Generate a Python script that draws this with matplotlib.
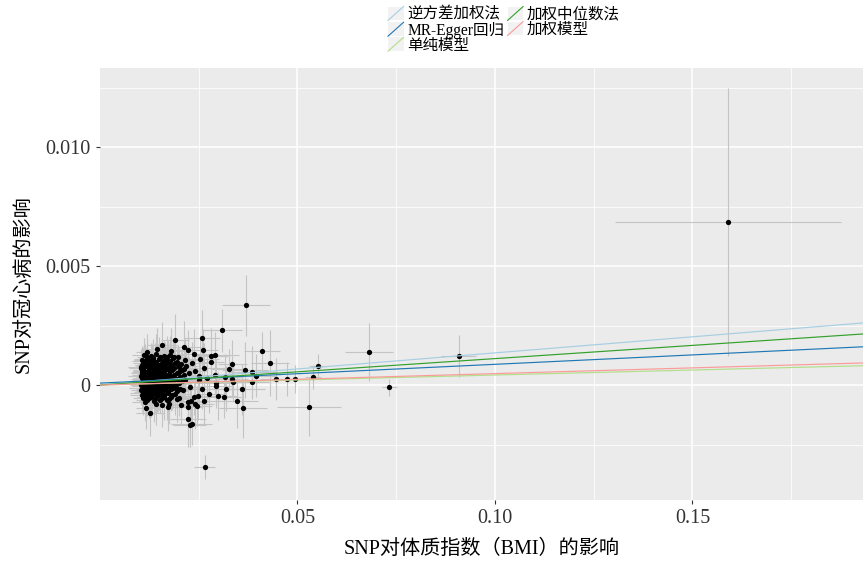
import matplotlib
matplotlib.use("Agg")
import matplotlib.pyplot as plt
from matplotlib.lines import Line2D
from matplotlib.patches import Rectangle
from matplotlib.legend_handler import HandlerBase

plt.rcParams['font.family'] = ['Liberation Serif', 'Noto Sans CJK SC']

# --- dense cluster of SNPs (row by row) ---
core_x = [0.0112, 0.0128, 0.0141, 0.0163, 0.0178, 0.0197,
          0.0106, 0.0119, 0.0134, 0.0150, 0.0168, 0.0186, 0.0214,
          0.0110, 0.0124, 0.0139, 0.0155, 0.0172, 0.0191, 0.0205, 0.0232,
          0.0104, 0.0117, 0.0131, 0.0146, 0.0160, 0.0177, 0.0199, 0.0218,
          0.0108, 0.0122, 0.0136, 0.0151, 0.0165, 0.0183, 0.0208, 0.0241,
          0.0113, 0.0127, 0.0142, 0.0157, 0.0174, 0.0194, 0.0226,
          0.0105, 0.0118, 0.0133, 0.0148, 0.0162, 0.0180, 0.0203, 0.0251,
          0.0110, 0.0124, 0.0139, 0.0154, 0.0170, 0.0188, 0.0215,
          0.0106, 0.0119, 0.0135, 0.0150, 0.0166, 0.0184, 0.0199,
          0.0111, 0.0126, 0.0141, 0.0158, 0.0175, 0.0193, 0.0228,
          0.0104, 0.0118, 0.0132, 0.0147, 0.0163, 0.0181, 0.0209,
          0.0109, 0.0123, 0.0138, 0.0153, 0.0171, 0.0190,
          0.0114, 0.0129, 0.0145, 0.0161, 0.0179, 0.0201,
          0.0120, 0.0136, 0.0152, 0.0169]
core_y = [0.00127, 0.00121, 0.00129, 0.00123, 0.00126, 0.00119,
          0.00106, 0.00111, 0.00104, 0.00109, 0.00105, 0.00112, 0.00107,
          0.00094, 0.00089, 0.00093, 0.00090, 0.00095, 0.00091, 0.00088, 0.00093,
          0.00076, 0.00080, 0.00077, 0.00081, 0.00075, 0.00079, 0.00076, 0.00080,
          0.00065, 0.00061, 0.00064, 0.00060, 0.00066, 0.00062, 0.00065, 0.00061,
          0.00047, 0.00051, 0.00048, 0.00050, 0.00046, 0.00052, 0.00049,
          0.00036, 0.00033, 0.00037, 0.00034, 0.00036, 0.00032, 0.00035, 0.00037,
          0.00019, 0.00023, 0.00020, 0.00022, 0.00018, 0.00023, 0.00020,
          0.00008, 0.00005, 0.00009, 0.00006, 0.00008, 0.00004, 0.00007,
          -0.00005, -0.00009, -0.00006, -0.00008, -0.00005, -0.00009, -0.00007,
          -0.00020, -0.00023, -0.00019, -0.00022, -0.00021, -0.00018, -0.00023,
          -0.00034, -0.00037, -0.00033, -0.00036, -0.00034, -0.00038,
          -0.00049, -0.00052, -0.00048, -0.00051, -0.00050, -0.00053,
          -0.00063, -0.00066, -0.00062, -0.00065]
core_sx = [.0030, .0022, .0038, .0025, .0041, .0028,
           .0020, .0034, .0026, .0043, .0024, .0031, .0037,
           .0027, .0019, .0035, .0023, .0040, .0029, .0021, .0045,
           .0033, .0025, .0018, .0039, .0027, .0036, .0022, .0030,
           .0024, .0038, .0029, .0021, .0034, .0026, .0042, .0031,
           .0019, .0032, .0040, .0026, .0023, .0036, .0028,
           .0035, .0027, .0021, .0044, .0030, .0024, .0038, .0033,
           .0028, .0020, .0037, .0025, .0041, .0029, .0034,
           .0022, .0039, .0027, .0033, .0019, .0036, .0025,
           .0031, .0024, .0042, .0028, .0035, .0021, .0038,
           .0026, .0036, .0020, .0040, .0029, .0033, .0024,
           .0034, .0023, .0039, .0027, .0031, .0037,
           .0021, .0035, .0028, .0043, .0025, .0032,
           .0029, .0038, .0024, .0034]
core_sy = [.00070, .00055, .00085, .00062, .00078, .00050,
           .00058, .00080, .00066, .00092, .00054, .00073, .00088,
           .00064, .00048, .00082, .00059, .00095, .00070, .00052, .00086,
           .00077, .00061, .00045, .00090, .00067, .00083, .00056, .00072,
           .00055, .00087, .00069, .00050, .00079, .00063, .00098, .00074,
           .00046, .00075, .00093, .00060, .00053, .00084, .00068,
           .00081, .00065, .00051, .00097, .00071, .00057, .00089, .00076,
           .00067, .00049, .00086, .00058, .00094, .00070, .00080,
           .00052, .00091, .00063, .00077, .00047, .00085, .00060,
           .00073, .00057, .00096, .00066, .00082, .00050, .00088,
           .00062, .00084, .00048, .00092, .00069, .00078, .00056,
           .00079, .00054, .00090, .00064, .00073, .00087,
           .00050, .00081, .00067, .00095, .00059, .00076,
           .00068, .00088, .00057, .00080]

# --- second layer of the cluster (between the rows above) ---
mid_x = [0.0120, 0.0134, 0.0152, 0.0170, 0.0187,
         0.0113, 0.0127, 0.0143, 0.0159, 0.0177, 0.0196,
         0.0107, 0.0117, 0.0131, 0.0147, 0.0164, 0.0181, 0.0198,
         0.0110, 0.0124, 0.0139, 0.0153, 0.0169, 0.0188, 0.0212,
         0.0106, 0.0119, 0.0133, 0.0146, 0.0161, 0.0178, 0.0200,
         0.0110, 0.0124, 0.0138, 0.0153, 0.0168, 0.0187, 0.0213,
         0.0107, 0.0115, 0.0129, 0.0143, 0.0158, 0.0176, 0.0195,
         0.0112, 0.0127, 0.0145, 0.0160, 0.0179, 0.0207,
         0.0104, 0.0116, 0.0130, 0.0145, 0.0161, 0.0177, 0.0190,
         0.0108, 0.0121, 0.0134, 0.0150, 0.0168, 0.0186, 0.0203,
         0.0113, 0.0127, 0.0141, 0.0156, 0.0172, 0.0195,
         0.0106, 0.0117, 0.0131, 0.0147, 0.0163, 0.0182,
         0.0124, 0.0140, 0.0157, 0.0174]
mid_y = [0.00118, 0.00115, 0.00119, 0.00116, 0.00117,
         0.00099, 0.00101, 0.00098, 0.00102, 0.00100, 0.00097,
         0.00086, 0.00084, 0.00087, 0.00083, 0.00086, 0.00085, 0.00084,
         0.00071, 0.00069, 0.00072, 0.00070, 0.00068, 0.00071, 0.00069,
         0.00057, 0.00055, 0.00056, 0.00058, 0.00054, 0.00057, 0.00055,
         0.00043, 0.00041, 0.00044, 0.00042, 0.00040, 0.00043, 0.00041,
         0.00029, 0.00027, 0.00028, 0.00030, 0.00026, 0.00029, 0.00027,
         0.00015, 0.00013, 0.00016, 0.00014, 0.00012, 0.00015,
         0.00001, -0.00001, 0.00002, 0.00000, -0.00002, 0.00001, -0.00001,
         -0.00013, -0.00015, -0.00012, -0.00016, -0.00014, -0.00013, -0.00015,
         -0.00027, -0.00029, -0.00026, -0.00030, -0.00028, -0.00027,
         -0.00041, -0.00043, -0.00040, -0.00044, -0.00042, -0.00041,
         -0.00056, -0.00058, -0.00055, -0.00059]
mid_sx = [.0026, .0035, .0022, .0040, .0031,
          .0033, .0021, .0038, .0027, .0044, .0025,
          .0019, .0029, .0036, .0024, .0041, .0030, .0034,
          .0037, .0023, .0031, .0042, .0026, .0035, .0028,
          .0022, .0039, .0027, .0033, .0020, .0036, .0043,
          .0030, .0025, .0041, .0028, .0034, .0022, .0038,
          .0024, .0036, .0029, .0021, .0040, .0032, .0027,
          .0039, .0026, .0033, .0044, .0023, .0035,
          .0028, .0020, .0037, .0025, .0031, .0042, .0026,
          .0034, .0029, .0022, .0039, .0027, .0036, .0030,
          .0023, .0041, .0032, .0026, .0037, .0029,
          .0031, .0024, .0038, .0021, .0035, .0028,
          .0036, .0027, .0033, .0040]
mid_sy = [.00062, .00080, .00054, .00091, .00070,
          .00075, .00051, .00088, .00066, .00095, .00058,
          .00049, .00072, .00085, .00060, .00093, .00067, .00078,
          .00083, .00056, .00074, .00097, .00063, .00081, .00069,
          .00053, .00090, .00065, .00077, .00048, .00086, .00099,
          .00071, .00059, .00094, .00068, .00080, .00052, .00087,
          .00057, .00084, .00070, .00050, .00092, .00076, .00064,
          .00089, .00061, .00078, .00098, .00055, .00082,
          .00066, .00047, .00086, .00059, .00073, .00096, .00062,
          .00079, .00068, .00052, .00090, .00064, .00083, .00071,
          .00054, .00093, .00075, .00061, .00087, .00069,
          .00072, .00057, .00088, .00050, .00081, .00066,
          .00084, .00063, .00077, .00092]

# --- points around the cluster edge ---
edge_x = [0.0158, 0.0190, 0.0258, 0.0223, 0.0144, 0.0118, 0.0239, 0.0262, 0.0282, 0.0292,
          0.0253, 0.0282, 0.0264, 0.0326, 0.0335, 0.0368, 0.0292, 0.0316, 0.0335, 0.0386,
          0.0395, 0.0384, 0.0337, 0.0294, 0.0294, 0.0319, 0.0360, 0.0276, 0.0299, 0.0314,
          0.0348, 0.0362, 0.0264, 0.0237, 0.0249, 0.0222, 0.0231, 0.0240, 0.0245, 0.0223,
          0.0227, 0.0232, 0.0222, 0.0174, 0.0173, 0.0158, 0.0117, 0.0126, 0.0108, 0.0113,
          0.0104, 0.0107, 0.0143, 0.0196, 0.0206, 0.0250, 0.0270, 0.0258, 0.0213, 0.0181]
edge_y = [0.00168, 0.00188, 0.00197, 0.00147, 0.00150, 0.00140, 0.00130, 0.00146, 0.00123, 0.00126,
          0.00108, 0.00098, 0.00070, 0.00067, 0.00088, 0.00063, 0.00042, 0.00035, 0.00027, 0.00053,
          0.00039, 0.00014, 0.00013, 0.00007, -0.00004, -0.00015, -0.00018, -0.00038, -0.00046, -0.00052,
          -0.00069, -0.00098, -0.00069, -0.00049, -0.00048, -0.00070, -0.00069, -0.00080, -0.00088, -0.00144,
          -0.00167, -0.00164, -0.00091, -0.00080, -0.00094, -0.00085, -0.00098, -0.00119, -0.00056, -0.00070,
          0.00070, 0.00049, -0.00078, -0.00060, -0.00082, 0.00020, 0.00030, -0.00018, 0.00160, 0.00142]
edge_sx = [.0040, .0035, .0045, .0050, .0030, .0028, .0055, .0038, .0042, .0060,
           .0048, .0033, .0052, .0044, .0036, .0058, .0040, .0047, .0039, .0062,
           .0050, .0043, .0035, .0054, .0041, .0046, .0057, .0038, .0049, .0044,
           .0053, .0060, .0045, .0037, .0042, .0050, .0034, .0048, .0039, .0046,
           .0041, .0052, .0036, .0032, .0044, .0030, .0027, .0035, .0025, .0031,
           .0026, .0029, .0038, .0043, .0036, .0051, .0047, .0040, .0045, .0039]
edge_sy = [.00095, .00110, .00120, .00085, .00090, .00075, .00105, .00088, .00115, .00098,
           .00092, .00080, .00108, .00086, .00100, .00118, .00083, .00096, .00078, .00112,
           .00090, .00070, .00084, .00102, .00076, .00094, .00106, .00081, .00099, .00087,
           .00110, .00125, .00093, .00079, .00101, .00089, .00097, .00104, .00085, .00115,
           .00095, .00088, .00107, .00082, .00100, .00091, .00086, .00094, .00072, .00080,
           .00083, .00077, .00090, .00096, .00087, .00103, .00092, .00081, .00109, .00099]

# --- isolated SNPs ---
far_x = [0.0370, 0.0310, 0.0265, 0.0410, 0.0430, 0.0445, 0.0473, 0.0494,
         0.0529, 0.0539, 0.0551, 0.0682, 0.0733, 0.0908, 0.1590]
far_y = [0.00336, 0.00230, -0.00346, 0.00143, 0.00092, 0.00025, 0.00025, 0.00025,
         -0.00092, 0.00035, 0.00080, 0.00137, -0.00010, 0.00122, 0.00685]
far_sx = [.0060, .0050, .0027, .0045, .0048, .0040, .0025, .0020,
          .0082, .0020, .0023, .0061, .0020, .0044, .0287]
far_sy = [.00128, .00090, .00050, .00080, .00140, .00090, .00070, .00060,
          .00122, .00050, .00050, .00122, .00037, .00088, .00563]

bx = core_x + mid_x + edge_x + far_x
by = core_y + mid_y + edge_y + far_y
sx = core_sx + mid_sx + edge_sx + far_sx
sy = core_sy + mid_sy + edge_sy + far_sy

# --- MR estimates (intercept, slope) ---
methods = ['逆方差加权法', 'MR-Egger回归', '单纯模型', '加权中位数法', '加权模型']
intercepts = [0.0, 0.00008, 0.0, 0.0, 0.0]
slopes = [0.0135, 0.0079, 0.0042, 0.0111, 0.0048]
colors = ['#A6CEE3', '#1F78B4', '#B2DF8A', '#33A02C', '#FB9A99']


class DiagKey(HandlerBase):
    def create_artists(self, legend, orig, xd, yd, w, h, fs, trans):
        box = Rectangle((-xd, -yd), w, h, facecolor='#F2F2F2', edgecolor='none', transform=trans)
        ln = Line2D([-xd, -xd + w], [-yd, -yd + h], color=orig.get_color(), lw=0.8, transform=trans)
        return [box, ln]


fig = plt.figure(figsize=(8.63, 5.61), dpi=100)
ax = fig.add_axes([100 / 863, 61.5 / 561, 763 / 863, 431.5 / 561])
ax.set_facecolor('#EBEBEB')
for s in ax.spines.values():
    s.set_visible(False)

ax.errorbar(bx, by, xerr=sx, yerr=sy, fmt='none', ecolor='#C4C4C4', elinewidth=0.8, capsize=0, zorder=2)
ax.plot(bx, by, 'o', color='black', ms=3.8, mew=0, zorder=3)

handles = []
for lab, a, b, c in zip(methods, intercepts, slopes, colors):
    h = ax.axline((0, a), slope=b, color=c, lw=0.85, zorder=4, label=lab)
    handles.append(h)

ax.set_xlim(0.0, 0.1932)
ax.set_ylim(-0.00481, 0.01332)
ax.set_xticks([0.05, 0.10, 0.15])
ax.set_xticklabels(['0.05', '0.10', '0.15'])
ax.set_yticks([0.0, 0.005, 0.010])
ax.set_yticklabels(['0', '0.005', '0.010'])
ax.set_xticks([0.025, 0.075, 0.125, 0.175], minor=True)
ax.set_yticks([-0.0025, 0.0025, 0.0075, 0.0125], minor=True)
ax.grid(which='major', color='white', lw=1.1)
ax.grid(which='minor', color='white', lw=0.55)
ax.set_axisbelow(True)
ax.tick_params(which='major', length=3, width=0.8, color='#333333', labelsize=14.5,
               labelcolor='#333333', pad=4)
ax.tick_params(which='minor', length=0)

ax.set_xlabel('SNP对体质指数（BMI）的影响', fontsize=14.5, labelpad=8)
ax.set_ylabel('SNP对冠心病的影响', fontsize=14.5, labelpad=8)

fig.legend(handles, methods, handler_map={Line2D: DiagKey()}, loc='upper center',
           bbox_to_anchor=(0.584, 1.005), ncol=2, frameon=False, fontsize=11.2,
           handlelength=1.0, handleheight=1.0, labelspacing=-0.08, columnspacing=0.2,
           handletextpad=0.25, borderpad=0.1)

fig.savefig('out.png', dpi=100)
